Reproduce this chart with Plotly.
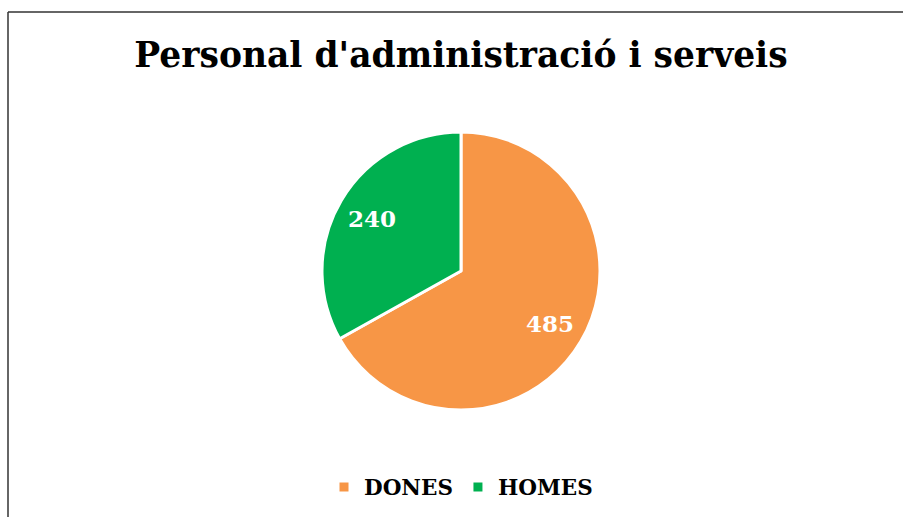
import math
import plotly.graph_objects as go

labels = ["DONES", "HOMES"]
values = [485, 240]
colors = ["#F79646", "#00B050"]
title_text = "Personal d'administració i serveis"

W, H = 903, 517
cx, cy, r = 461, 271, 139

dom_x = [(cx - r) / W, (cx + r) / W]
dom_y = [(H - cy - r) / H, (H - cy + r) / H]

fig = go.Figure(go.Pie(
    labels=labels,
    values=values,
    marker=dict(colors=colors, line=dict(color="white", width=3)),
    sort=False,
    direction="clockwise",
    rotation=0,
    textinfo="none",
    domain=dict(x=dom_x, y=dom_y),
    hoverinfo="label+value",
))

# value labels placed along each slice's mid angle
total = sum(values)
annotations = []
cum = 0
for v in values:
    mid = (cum + v / 2) / total * 2 * math.pi
    cum += v
    d = 0.74 * r
    ax = cx + d * math.sin(mid)
    ay = cy - d * math.cos(mid)
    annotations.append(dict(
        x=ax / W, y=1 - ay / H, xref="paper", yref="paper",
        text="<b>" + str(v) + "</b>", showarrow=False,
        xanchor="center", yanchor="middle",
        font=dict(family="DejaVu Serif", size=23, color="white"),
    ))

top_y = 1 - 12 / H
left_x = 8 / W
fig.update_layout(
    width=W, height=H,
    margin=dict(l=0, r=0, t=0, b=0),
    paper_bgcolor="white",
    plot_bgcolor="white",
    title=dict(text="<b>" + title_text + "</b>", x=cx / W, xanchor="center",
               y=1 - 55 / H, yanchor="middle",
               font=dict(family="DejaVu Serif", size=34.5, color="black")),
    legend=dict(orientation="h", x=cx / W, xanchor="center", y=1 - 487 / H, yanchor="middle",
                font=dict(family="DejaVu Serif", size=21.5, color="black", weight="bold")),
    annotations=annotations,
    shapes=[
        dict(type="line", xref="paper", yref="paper",
             x0=left_x, x1=1.2, y0=top_y, y1=top_y,
             line=dict(color="#333333", width=1.5)),
        dict(type="line", xref="paper", yref="paper",
             x0=left_x, x1=left_x, y0=-0.2, y1=top_y,
             line=dict(color="#333333", width=1.5)),
    ],
)

fig.write_html("out.html",
               config={"displayModeBar": False},
               post_script="document.body.style.margin='0';document.body.style.overflow='hidden';")
